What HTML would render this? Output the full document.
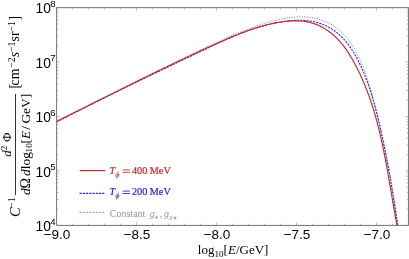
<!DOCTYPE html>
<html><head><meta charset="utf-8"><title>plot</title><style>html,body{margin:0;padding:0;background:#fff}svg{display:block;will-change:transform}</style></head><body>
<svg width="409" height="259" viewBox="0 0 409 259">
<rect width="409" height="259" fill="#fff"/>
<defs><clipPath id="c"><rect x="56.60" y="7.65" width="351.85" height="217.75"/></clipPath></defs>
<g clip-path="url(#c)" fill="none">
<path d="M56.68,121.14 L57.81,120.57 L58.95,119.99 L60.08,119.42 L61.22,118.85 L62.36,118.27 L63.50,117.70 L64.64,117.13 L65.78,116.55 L66.92,115.98 L68.06,115.40 L69.20,114.83 L70.34,114.25 L71.48,113.68 L72.63,113.10 L73.77,112.53 L74.92,111.95 L76.06,111.38 L77.21,110.80 L78.36,110.23 L79.51,109.65 L80.66,109.07 L81.80,108.50 L82.95,107.92 L84.10,107.34 L85.25,106.77 L86.41,106.19 L87.56,105.61 L88.71,105.04 L89.86,104.46 L91.02,103.88 L92.17,103.31 L93.32,102.73 L94.48,102.15 L95.63,101.57 L96.79,101.00 L97.95,100.42 L99.10,99.84 L100.26,99.27 L101.42,98.69 L102.57,98.11 L103.73,97.53 L104.89,96.96 L106.05,96.38 L107.21,95.80 L108.37,95.22 L109.53,94.65 L110.69,94.07 L111.85,93.49 L113.01,92.92 L114.17,92.34 L115.33,91.76 L116.49,91.19 L117.65,90.61 L118.81,90.03 L119.98,89.46 L121.14,88.88 L122.30,88.30 L123.46,87.73 L124.62,87.15 L125.79,86.57 L126.95,86.00 L128.11,85.42 L129.28,84.85 L130.44,84.27 L131.60,83.70 L132.76,83.12 L133.93,82.55 L135.09,81.97 L136.25,81.40 L137.42,80.82 L138.58,80.25 L139.74,79.67 L140.91,79.10 L142.07,78.53 L143.23,77.95 L144.40,77.38 L145.56,76.81 L146.72,76.23 L147.89,75.66 L149.05,75.09 L150.21,74.51 L151.37,73.94 L152.54,73.37 L153.70,72.80 L154.86,72.23 L156.02,71.66 L157.19,71.09 L158.35,70.52 L159.51,69.95 L160.67,69.38 L161.83,68.81 L162.99,68.24 L164.15,67.67 L165.31,67.10 L166.47,66.53 L167.63,65.96 L168.79,65.40 L169.95,64.83 L171.11,64.26 L172.27,63.70 L173.43,63.13 L174.58,62.56 L175.74,62.00 L176.90,61.43 L178.05,60.87 L179.21,60.31 L180.37,59.74 L181.52,59.18 L182.68,58.61 L183.83,58.05 L184.98,57.49 L186.14,56.93 L187.29,56.37 L188.44,55.81 L189.59,55.25 L190.75,54.69 L191.90,54.13 L193.05,53.57 L194.20,53.01 L195.35,52.45 L196.49,51.89 L197.64,51.34 L198.79,50.78 L199.94,50.23 L201.09,49.67 L202.24,49.12 L203.39,48.57 L204.54,48.01 L205.68,47.46 L206.83,46.92 L207.98,46.37 L209.14,45.82 L210.29,45.28 L211.44,44.74 L212.59,44.19 L213.75,43.65 L214.90,43.12 L216.06,42.58 L217.22,42.05 L218.38,41.51 L219.54,40.98 L220.70,40.46 L221.87,39.93 L223.03,39.41 L224.20,38.88 L225.37,38.36 L226.54,37.85 L227.71,37.33 L228.89,36.82 L230.07,36.31 L231.25,35.81 L232.43,35.30 L233.62,34.80 L234.80,34.30 L236.00,33.81 L237.19,33.32 L238.39,32.83 L239.58,32.34 L240.79,31.86 L241.99,31.38 L243.20,30.90 L244.41,30.43 L245.63,29.96 L246.85,29.50 L248.07,29.04 L249.30,28.58 L250.53,28.12 L251.76,27.67 L253.00,27.23 L254.24,26.79 L255.49,26.35 L256.74,25.91 L257.99,25.48 L259.25,25.06 L260.51,24.64 L261.78,24.22 L263.05,23.82 L264.32,23.42 L265.59,23.02 L266.87,22.64 L268.15,22.26 L269.44,21.89 L270.72,21.53 L272.01,21.18 L273.29,20.83 L274.58,20.50 L275.87,20.18 L277.16,19.88 L278.45,19.58 L279.75,19.29 L281.04,19.02 L282.33,18.76 L283.62,18.52 L284.91,18.29 L286.20,18.07 L287.49,17.87 L288.78,17.69 L290.07,17.52 L291.35,17.37 L292.63,17.23 L293.92,17.12 L295.19,17.02 L296.47,16.93 L297.74,16.87 L299.01,16.83 L300.28,16.81 L301.54,16.80 L302.80,16.82 L304.06,16.86 L305.31,16.92 L306.56,17.01 L307.80,17.11 L309.04,17.24 L310.27,17.39 L311.50,17.57 L312.72,17.77 L313.94,18.00 L315.15,18.25 L316.35,18.53 L317.55,18.83 L318.74,19.17 L319.93,19.53 L321.10,19.91 L322.27,20.33 L323.43,20.77 L324.59,21.23 L325.73,21.73 L326.86,22.24 L327.99,22.79 L329.10,23.36 L330.20,23.95 L331.29,24.57 L332.36,25.22 L333.42,25.89 L334.47,26.58 L335.51,27.29 L336.53,28.03 L337.54,28.79 L338.53,29.57 L339.50,30.38 L340.46,31.21 L341.40,32.05 L342.32,32.92 L343.22,33.81 L344.11,34.72 L344.97,35.66 L345.82,36.61 L346.65,37.57 L347.46,38.56 L348.25,39.57 L349.03,40.59 L349.78,41.62 L350.52,42.67 L351.25,43.73 L351.96,44.81 L352.65,45.90 L353.33,47.00 L354.00,48.11 L354.65,49.23 L355.29,50.36 L355.91,51.49 L356.52,52.64 L357.12,53.79 L357.71,54.94 L358.28,56.10 L358.85,57.27 L359.40,58.44 L359.95,59.61 L360.48,60.79 L361.00,61.97 L361.51,63.16 L362.02,64.35 L362.51,65.55 L362.99,66.74 L363.47,67.95 L363.94,69.15 L364.39,70.36 L364.84,71.57 L365.29,72.79 L365.72,74.01 L366.15,75.23 L366.57,76.45 L366.98,77.68 L367.39,78.91 L367.79,80.14 L368.19,81.37 L368.58,82.60 L368.96,83.84 L369.34,85.08 L369.71,86.32 L370.08,87.56 L370.45,88.80 L370.81,90.05 L371.16,91.29 L371.52,92.54 L371.87,93.79 L372.21,95.03 L372.56,96.28 L372.90,97.53 L373.24,98.78 L373.57,100.03 L373.91,101.28 L374.24,102.53 L374.57,103.78 L374.90,105.03 L375.22,106.28 L375.55,107.53 L375.87,108.78 L376.19,110.03 L376.50,111.28 L376.82,112.53 L377.13,113.78 L377.44,115.03 L377.75,116.29 L378.05,117.54 L378.36,118.79 L378.66,120.04 L378.96,121.30 L379.26,122.55 L379.56,123.81 L379.85,125.06 L380.14,126.31 L380.43,127.57 L380.72,128.82 L381.01,130.08 L381.29,131.34 L381.57,132.59 L381.86,133.85 L382.13,135.11 L382.41,136.36 L382.69,137.62 L382.96,138.88 L383.23,140.14 L383.50,141.39 L383.77,142.65 L384.04,143.91 L384.30,145.17 L384.56,146.43 L384.82,147.69 L385.08,148.95 L385.34,150.21 L385.60,151.47 L385.85,152.74 L386.10,154.00 L386.35,155.26 L386.60,156.52 L386.85,157.79 L387.09,159.05 L387.34,160.31 L387.58,161.58 L387.82,162.84 L388.06,164.11 L388.30,165.37 L388.54,166.64 L388.77,167.91 L389.00,169.17 L389.23,170.44 L389.47,171.71 L389.69,172.97 L389.92,174.24 L390.15,175.51 L390.37,176.78 L390.59,178.05 L390.82,179.32 L391.04,180.59 L391.25,181.86 L391.47,183.13 L391.69,184.41 L391.90,185.68 L392.12,186.95 L392.33,188.22 L392.54,189.50 L392.75,190.77 L392.96,192.05 L393.16,193.32 L393.37,194.60 L393.57,195.87 L393.78,197.15 L393.98,198.43 L394.18,199.71 L394.38,200.98 L394.58,202.26 L394.77,203.54 L394.97,204.82 L395.16,206.10 L395.36,207.38 L395.55,208.66 L395.74,209.94 L395.93,211.23 L396.12,212.51 L396.31,213.79 L396.50,215.08 L396.68,216.36 L396.87,217.65 L397.05,218.93 L397.23,220.22 L397.42,221.50 L397.60,222.79 L397.78,224.08" stroke="#7c7c7c" stroke-width="0.95" stroke-dasharray="1.15 1.4"/>
<path d="M56.49,122.11 L57.65,121.50 L58.81,120.89 L59.97,120.29 L61.13,119.69 L62.29,119.08 L63.45,118.48 L64.61,117.88 L65.77,117.28 L66.93,116.68 L68.09,116.09 L69.25,115.49 L70.41,114.89 L71.57,114.30 L72.73,113.71 L73.89,113.11 L75.05,112.52 L76.21,111.93 L77.37,111.34 L78.53,110.75 L79.68,110.16 L80.84,109.57 L82.00,108.99 L83.16,108.40 L84.32,107.81 L85.48,107.23 L86.64,106.65 L87.79,106.06 L88.95,105.48 L90.11,104.90 L91.27,104.32 L92.43,103.74 L93.59,103.16 L94.74,102.58 L95.90,102.00 L97.06,101.42 L98.22,100.85 L99.38,100.27 L100.54,99.70 L101.69,99.12 L102.85,98.55 L104.01,97.97 L105.17,97.40 L106.33,96.83 L107.49,96.26 L108.64,95.69 L109.80,95.12 L110.96,94.55 L112.12,93.98 L113.28,93.41 L114.44,92.84 L115.60,92.27 L116.75,91.70 L117.91,91.14 L119.07,90.57 L120.23,90.00 L121.39,89.44 L122.55,88.87 L123.71,88.31 L124.87,87.74 L126.03,87.18 L127.19,86.62 L128.35,86.05 L129.51,85.49 L130.67,84.93 L131.83,84.37 L132.99,83.80 L134.15,83.24 L135.31,82.68 L136.47,82.12 L137.63,81.56 L138.79,81.00 L139.95,80.44 L141.11,79.88 L142.27,79.32 L143.43,78.76 L144.60,78.21 L145.76,77.65 L146.92,77.09 L148.08,76.53 L149.24,75.97 L150.41,75.41 L151.57,74.86 L152.73,74.30 L153.89,73.74 L155.06,73.19 L156.22,72.63 L157.38,72.07 L158.55,71.51 L159.71,70.96 L160.88,70.40 L162.04,69.85 L163.21,69.29 L164.37,68.73 L165.54,68.18 L166.70,67.62 L167.87,67.06 L169.03,66.51 L170.20,65.95 L171.36,65.40 L172.53,64.84 L173.70,64.28 L174.87,63.73 L176.03,63.17 L177.20,62.61 L178.37,62.06 L179.54,61.50 L180.71,60.94 L181.87,60.39 L183.04,59.83 L184.21,59.27 L185.38,58.72 L186.55,58.16 L187.72,57.60 L188.89,57.05 L190.06,56.49 L191.24,55.93 L192.41,55.37 L193.58,54.81 L194.75,54.25 L195.92,53.70 L197.10,53.14 L198.27,52.58 L199.44,52.02 L200.62,51.46 L201.79,50.90 L202.97,50.34 L204.14,49.78 L205.32,49.22 L206.49,48.66 L207.67,48.10 L208.85,47.54 L210.03,46.99 L211.21,46.43 L212.38,45.87 L213.56,45.32 L214.75,44.77 L215.93,44.22 L217.11,43.67 L218.29,43.12 L219.48,42.58 L220.66,42.04 L221.85,41.50 L223.04,40.96 L224.23,40.43 L225.42,39.90 L226.61,39.37 L227.80,38.85 L228.99,38.33 L230.19,37.82 L231.38,37.30 L232.58,36.80 L233.78,36.29 L234.98,35.79 L236.18,35.30 L237.38,34.81 L238.59,34.32 L239.80,33.84 L241.00,33.37 L242.21,32.90 L243.43,32.44 L244.64,31.98 L245.85,31.53 L247.07,31.08 L248.29,30.64 L249.51,30.21 L250.73,29.78 L251.96,29.36 L253.18,28.95 L254.41,28.54 L255.64,28.15 L256.87,27.75 L258.11,27.37 L259.35,27.00 L260.59,26.63 L261.83,26.27 L263.07,25.92 L264.32,25.57 L265.57,25.24 L266.82,24.92 L268.07,24.60 L269.33,24.29 L270.59,23.99 L271.85,23.71 L273.11,23.43 L274.38,23.16 L275.65,22.90 L276.92,22.65 L278.20,22.41 L279.47,22.18 L280.76,21.97 L282.04,21.76 L283.33,21.56 L284.62,21.38 L285.91,21.20 L287.20,21.04 L288.50,20.90 L289.80,20.76 L291.10,20.64 L292.40,20.53 L293.70,20.44 L295.00,20.37 L296.30,20.31 L297.60,20.28 L298.89,20.26 L300.19,20.26 L301.48,20.28 L302.76,20.32 L304.05,20.39 L305.33,20.47 L306.60,20.58 L307.87,20.72 L309.13,20.88 L310.39,21.06 L311.64,21.27 L312.88,21.51 L314.11,21.77 L315.34,22.06 L316.56,22.38 L317.77,22.72 L318.97,23.08 L320.15,23.47 L321.33,23.89 L322.50,24.33 L323.66,24.80 L324.80,25.29 L325.93,25.80 L327.05,26.34 L328.16,26.91 L329.25,27.50 L330.32,28.11 L331.39,28.75 L332.43,29.41 L333.47,30.09 L334.48,30.80 L335.48,31.54 L336.46,32.29 L337.43,33.07 L338.38,33.87 L339.32,34.69 L340.24,35.53 L341.14,36.40 L342.03,37.28 L342.90,38.18 L343.76,39.10 L344.60,40.04 L345.43,41.00 L346.25,41.97 L347.05,42.96 L347.84,43.96 L348.61,44.98 L349.37,46.02 L350.12,47.07 L350.86,48.13 L351.58,49.21 L352.29,50.30 L352.99,51.40 L353.67,52.51 L354.34,53.63 L355.01,54.77 L355.66,55.91 L356.29,57.06 L356.92,58.22 L357.54,59.39 L358.15,60.57 L358.74,61.75 L359.33,62.94 L359.90,64.14 L360.47,65.34 L361.02,66.55 L361.57,67.76 L362.11,68.97 L362.64,70.19 L363.16,71.41 L363.67,72.63 L364.17,73.85 L364.66,75.08 L365.15,76.30 L365.63,77.53 L366.10,78.75 L366.56,79.98 L367.02,81.20 L367.47,82.43 L367.91,83.65 L368.34,84.88 L368.77,86.11 L369.19,87.34 L369.61,88.57 L370.01,89.80 L370.42,91.02 L370.81,92.25 L371.20,93.49 L371.58,94.72 L371.96,95.95 L372.34,97.18 L372.70,98.41 L373.06,99.65 L373.42,100.88 L373.77,102.12 L374.12,103.35 L374.46,104.59 L374.80,105.82 L375.14,107.06 L375.46,108.30 L375.79,109.54 L376.11,110.78 L376.43,112.02 L376.74,113.26 L377.05,114.50 L377.36,115.75 L377.67,116.99 L377.97,118.23 L378.26,119.48 L378.56,120.73 L378.85,121.97 L379.14,123.22 L379.43,124.47 L379.72,125.72 L380.00,126.97 L380.28,128.22 L380.56,129.47 L380.84,130.73 L381.11,131.98 L381.39,133.24 L381.66,134.49 L381.93,135.75 L382.20,137.01 L382.47,138.27 L382.74,139.53 L383.01,140.79 L383.27,142.05 L383.53,143.31 L383.79,144.57 L384.05,145.84 L384.31,147.10 L384.57,148.37 L384.82,149.63 L385.08,150.90 L385.33,152.16 L385.58,153.43 L385.83,154.70 L386.07,155.97 L386.32,157.24 L386.57,158.51 L386.81,159.78 L387.05,161.05 L387.29,162.32 L387.53,163.59 L387.77,164.87 L388.00,166.14 L388.24,167.41 L388.47,168.69 L388.70,169.96 L388.94,171.24 L389.17,172.51 L389.39,173.79 L389.62,175.06 L389.85,176.34 L390.07,177.61 L390.29,178.89 L390.52,180.17 L390.74,181.44 L390.96,182.72 L391.17,184.00 L391.39,185.28 L391.61,186.55 L391.82,187.83 L392.03,189.11 L392.24,190.39 L392.45,191.67 L392.66,192.94 L392.87,194.22 L393.08,195.50 L393.29,196.78 L393.49,198.06 L393.69,199.34 L393.90,200.61 L394.10,201.89 L394.30,203.17 L394.50,204.45 L394.69,205.73 L394.89,207.00 L395.09,208.28 L395.28,209.56 L395.48,210.84 L395.67,212.11 L395.86,213.39 L396.05,214.67 L396.24,215.94 L396.43,217.22 L396.61,218.50 L396.80,219.77 L396.99,221.05 L397.17,222.32 L397.35,223.60 L397.54,224.87 L397.72,226.14 L397.90,227.42 L398.08,228.69 L398.25,229.96" stroke="#2a2ac8" stroke-width="1.1" stroke-dasharray="2.1 1.14"/>
<path d="M56.51,121.55 L57.67,120.98 L58.83,120.40 L59.99,119.83 L61.15,119.25 L62.30,118.68 L63.46,118.10 L64.62,117.53 L65.77,116.95 L66.93,116.38 L68.08,115.80 L69.23,115.23 L70.39,114.65 L71.54,114.08 L72.69,113.50 L73.84,112.93 L74.99,112.35 L76.14,111.78 L77.30,111.20 L78.45,110.63 L79.59,110.05 L80.74,109.48 L81.89,108.90 L83.04,108.33 L84.19,107.75 L85.34,107.18 L86.48,106.60 L87.63,106.03 L88.78,105.45 L89.92,104.88 L91.07,104.31 L92.22,103.73 L93.36,103.16 L94.51,102.59 L95.65,102.01 L96.79,101.44 L97.94,100.87 L99.08,100.29 L100.23,99.72 L101.37,99.15 L102.51,98.57 L103.66,98.00 L104.80,97.43 L105.94,96.86 L107.09,96.29 L108.23,95.71 L109.37,95.14 L110.51,94.57 L111.65,94.00 L112.80,93.43 L113.94,92.86 L115.08,92.29 L116.22,91.72 L117.36,91.15 L118.51,90.58 L119.65,90.01 L120.79,89.44 L121.93,88.87 L123.07,88.30 L124.21,87.73 L125.35,87.17 L126.50,86.60 L127.64,86.03 L128.78,85.46 L129.92,84.90 L131.06,84.33 L132.20,83.76 L133.35,83.20 L134.49,82.63 L135.63,82.07 L136.77,81.50 L137.91,80.94 L139.06,80.37 L140.20,79.81 L141.34,79.25 L142.48,78.68 L143.63,78.12 L144.77,77.56 L145.91,76.99 L147.06,76.43 L148.20,75.87 L149.34,75.31 L150.49,74.75 L151.63,74.19 L152.78,73.63 L153.92,73.07 L155.07,72.51 L156.21,71.95 L157.36,71.39 L158.50,70.84 L159.65,70.28 L160.80,69.72 L161.94,69.16 L163.09,68.61 L164.24,68.05 L165.39,67.50 L166.54,66.94 L167.68,66.39 L168.83,65.83 L169.98,65.28 L171.13,64.73 L172.28,64.18 L173.43,63.62 L174.59,63.07 L175.74,62.52 L176.89,61.97 L178.04,61.42 L179.20,60.87 L180.35,60.33 L181.50,59.78 L182.66,59.23 L183.82,58.68 L184.97,58.14 L186.13,57.59 L187.28,57.04 L188.44,56.50 L189.60,55.96 L190.76,55.41 L191.92,54.87 L193.08,54.33 L194.24,53.78 L195.40,53.24 L196.56,52.70 L197.73,52.16 L198.89,51.62 L200.05,51.08 L201.22,50.55 L202.38,50.01 L203.55,49.47 L204.72,48.94 L205.88,48.40 L207.05,47.86 L208.22,47.33 L209.39,46.80 L210.56,46.26 L211.73,45.73 L212.90,45.20 L214.08,44.67 L215.25,44.14 L216.43,43.61 L217.60,43.08 L218.78,42.55 L219.96,42.03 L221.13,41.50 L222.31,40.98 L223.49,40.46 L224.67,39.94 L225.86,39.43 L227.04,38.91 L228.22,38.40 L229.41,37.90 L230.60,37.39 L231.79,36.89 L232.97,36.39 L234.17,35.90 L235.36,35.41 L236.55,34.93 L237.75,34.45 L238.94,33.97 L240.14,33.50 L241.34,33.04 L242.54,32.58 L243.74,32.12 L244.94,31.67 L246.15,31.23 L247.35,30.79 L248.56,30.36 L249.77,29.94 L250.98,29.52 L252.20,29.11 L253.41,28.71 L254.63,28.31 L255.85,27.93 L257.07,27.55 L258.29,27.17 L259.51,26.81 L260.74,26.45 L261.96,26.11 L263.19,25.77 L264.43,25.44 L265.66,25.12 L266.90,24.81 L268.13,24.51 L269.37,24.22 L270.61,23.94 L271.86,23.67 L273.11,23.41 L274.35,23.16 L275.60,22.92 L276.86,22.69 L278.11,22.48 L279.37,22.27 L280.63,22.08 L281.89,21.90 L283.16,21.73 L284.42,21.58 L285.69,21.43 L286.97,21.30 L288.24,21.19 L289.51,21.09 L290.79,21.00 L292.07,20.94 L293.34,20.89 L294.62,20.86 L295.89,20.86 L297.16,20.87 L298.44,20.91 L299.71,20.97 L300.97,21.05 L302.24,21.16 L303.50,21.30 L304.75,21.47 L306.01,21.66 L307.26,21.88 L308.50,22.14 L309.74,22.43 L310.97,22.74 L312.19,23.10 L313.41,23.48 L314.62,23.89 L315.82,24.34 L317.01,24.81 L318.19,25.31 L319.36,25.84 L320.52,26.39 L321.66,26.98 L322.80,27.59 L323.92,28.22 L325.02,28.88 L326.11,29.56 L327.18,30.26 L328.24,30.99 L329.28,31.73 L330.30,32.50 L331.30,33.29 L332.29,34.09 L333.26,34.92 L334.21,35.76 L335.14,36.63 L336.06,37.50 L336.96,38.40 L337.85,39.31 L338.72,40.24 L339.58,41.18 L340.42,42.14 L341.25,43.11 L342.06,44.10 L342.86,45.09 L343.64,46.10 L344.41,47.13 L345.17,48.16 L345.92,49.20 L346.66,50.26 L347.38,51.32 L348.09,52.40 L348.79,53.48 L349.48,54.57 L350.16,55.67 L350.83,56.77 L351.49,57.88 L352.14,59.00 L352.78,60.12 L353.41,61.25 L354.04,62.39 L354.65,63.52 L355.26,64.66 L355.86,65.80 L356.45,66.95 L357.04,68.10 L357.61,69.25 L358.18,70.40 L358.75,71.55 L359.30,72.71 L359.85,73.87 L360.40,75.03 L360.93,76.20 L361.46,77.36 L361.99,78.53 L362.50,79.70 L363.01,80.88 L363.52,82.05 L364.01,83.23 L364.50,84.41 L364.99,85.59 L365.47,86.77 L365.94,87.96 L366.41,89.15 L366.87,90.34 L367.32,91.53 L367.77,92.72 L368.21,93.92 L368.65,95.12 L369.08,96.32 L369.51,97.52 L369.93,98.72 L370.35,99.93 L370.76,101.14 L371.16,102.34 L371.56,103.55 L371.96,104.77 L372.35,105.98 L372.73,107.20 L373.11,108.41 L373.49,109.63 L373.86,110.85 L374.22,112.07 L374.58,113.30 L374.94,114.52 L375.29,115.75 L375.64,116.97 L375.99,118.20 L376.32,119.43 L376.66,120.66 L376.99,121.90 L377.32,123.13 L377.64,124.37 L377.96,125.60 L378.28,126.84 L378.59,128.08 L378.90,129.32 L379.20,130.56 L379.50,131.80 L379.80,133.05 L380.09,134.29 L380.38,135.54 L380.67,136.78 L380.95,138.03 L381.24,139.28 L381.51,140.53 L381.79,141.78 L382.06,143.03 L382.33,144.28 L382.60,145.53 L382.86,146.79 L383.12,148.04 L383.38,149.30 L383.64,150.55 L383.89,151.81 L384.14,153.06 L384.39,154.32 L384.64,155.58 L384.88,156.84 L385.13,158.10 L385.37,159.36 L385.61,160.62 L385.84,161.88 L386.08,163.14 L386.31,164.40 L386.55,165.66 L386.78,166.92 L387.01,168.19 L387.23,169.45 L387.46,170.71 L387.68,171.97 L387.91,173.24 L388.13,174.50 L388.35,175.76 L388.57,177.03 L388.79,178.29 L389.01,179.56 L389.23,180.82 L389.45,182.08 L389.66,183.35 L389.88,184.61 L390.09,185.88 L390.31,187.14 L390.52,188.40 L390.74,189.67 L390.95,190.93 L391.17,192.19 L391.38,193.46 L391.60,194.72 L391.81,195.98 L392.02,197.24 L392.24,198.50 L392.45,199.77 L392.67,201.03 L392.88,202.29 L393.10,203.55 L393.32,204.81 L393.53,206.07 L393.75,207.33 L393.97,208.58 L394.19,209.84 L394.41,211.10 L394.63,212.35 L394.85,213.61 L395.08,214.86 L395.30,216.12 L395.53,217.37 L395.75,218.63 L395.98,219.88 L396.21,221.13 L396.44,222.38 L396.68,223.63 L396.91,224.88 L397.15,226.12 L397.39,227.37 L397.63,228.62 L397.87,229.86" stroke="#c22b33" stroke-width="1.15"/>
</g>
<rect x="56.60" y="7.65" width="351.85" height="217.75" fill="none" stroke="#747474" stroke-width="1.0"/>
<path d="M56.60,225.40v-3.00M56.60,7.65v3.00M72.60,225.40v-1.80M72.60,7.65v1.80M88.60,225.40v-1.80M88.60,7.65v1.80M104.60,225.40v-1.80M104.60,7.65v1.80M120.60,225.40v-1.80M120.60,7.65v1.80M136.60,225.40v-3.00M136.60,7.65v3.00M152.60,225.40v-1.80M152.60,7.65v1.80M168.60,225.40v-1.80M168.60,7.65v1.80M184.60,225.40v-1.80M184.60,7.65v1.80M200.60,225.40v-1.80M200.60,7.65v1.80M216.60,225.40v-3.00M216.60,7.65v3.00M232.60,225.40v-1.80M232.60,7.65v1.80M248.60,225.40v-1.80M248.60,7.65v1.80M264.60,225.40v-1.80M264.60,7.65v1.80M280.60,225.40v-1.80M280.60,7.65v1.80M296.60,225.40v-3.00M296.60,7.65v3.00M312.60,225.40v-1.80M312.60,7.65v1.80M328.60,225.40v-1.80M328.60,7.65v1.80M344.60,225.40v-1.80M344.60,7.65v1.80M360.60,225.40v-1.80M360.60,7.65v1.80M376.60,225.40v-3.00M376.60,7.65v3.00M392.60,225.40v-1.80M392.60,7.65v1.80M408.60,225.40v-1.80M408.60,7.65v1.80M56.60,225.40h3.00M408.45,225.40h-3.00M56.60,209.01h1.80M408.45,209.01h-1.80M56.60,199.43h1.80M408.45,199.43h-1.80M56.60,192.63h1.80M408.45,192.63h-1.80M56.60,187.35h1.80M408.45,187.35h-1.80M56.60,183.04h1.80M408.45,183.04h-1.80M56.60,179.39h1.80M408.45,179.39h-1.80M56.60,176.24h1.80M408.45,176.24h-1.80M56.60,173.45h1.80M408.45,173.45h-1.80M56.60,170.96h3.00M408.45,170.96h-3.00M56.60,154.58h1.80M408.45,154.58h-1.80M56.60,144.99h1.80M408.45,144.99h-1.80M56.60,138.19h1.80M408.45,138.19h-1.80M56.60,132.91h1.80M408.45,132.91h-1.80M56.60,128.60h1.80M408.45,128.60h-1.80M56.60,124.96h1.80M408.45,124.96h-1.80M56.60,121.80h1.80M408.45,121.80h-1.80M56.60,119.02h1.80M408.45,119.02h-1.80M56.60,116.53h3.00M408.45,116.53h-3.00M56.60,100.14h1.80M408.45,100.14h-1.80M56.60,90.55h1.80M408.45,90.55h-1.80M56.60,83.75h1.80M408.45,83.75h-1.80M56.60,78.47h1.80M408.45,78.47h-1.80M56.60,74.16h1.80M408.45,74.16h-1.80M56.60,70.52h1.80M408.45,70.52h-1.80M56.60,67.36h1.80M408.45,67.36h-1.80M56.60,64.58h1.80M408.45,64.58h-1.80M56.60,62.09h3.00M408.45,62.09h-3.00M56.60,45.70h1.80M408.45,45.70h-1.80M56.60,36.11h1.80M408.45,36.11h-1.80M56.60,29.31h1.80M408.45,29.31h-1.80M56.60,24.04h1.80M408.45,24.04h-1.80M56.60,19.73h1.80M408.45,19.73h-1.80M56.60,16.08h1.80M408.45,16.08h-1.80M56.60,12.93h1.80M408.45,12.93h-1.80M56.60,10.14h1.80M408.45,10.14h-1.80M56.60,7.65h3.00M408.45,7.65h-3.00" stroke="#8a8a8a" stroke-width="0.6" fill="none"/>
<text x="57.00" y="238.7" font-family="Liberation Sans, sans-serif" font-size="13.5" text-anchor="middle" fill="#000">−9.0</text>
<text x="137.00" y="238.7" font-family="Liberation Sans, sans-serif" font-size="13.5" text-anchor="middle" fill="#000">−8.5</text>
<text x="217.00" y="238.7" font-family="Liberation Sans, sans-serif" font-size="13.5" text-anchor="middle" fill="#000">−8.0</text>
<text x="297.00" y="238.7" font-family="Liberation Sans, sans-serif" font-size="13.5" text-anchor="middle" fill="#000">−7.5</text>
<text x="377.00" y="238.7" font-family="Liberation Sans, sans-serif" font-size="13.5" text-anchor="middle" fill="#000">−7.0</text>
<text x="50.9" y="231.00" font-family="Liberation Sans, sans-serif" font-size="13.8" text-anchor="end" fill="#000">10</text>
<text x="50.3" y="224.70" font-family="Liberation Sans, sans-serif" font-size="9.6" fill="#000">4</text>
<text x="50.9" y="176.56" font-family="Liberation Sans, sans-serif" font-size="13.8" text-anchor="end" fill="#000">10</text>
<text x="50.3" y="170.26" font-family="Liberation Sans, sans-serif" font-size="9.6" fill="#000">5</text>
<text x="50.9" y="122.12" font-family="Liberation Sans, sans-serif" font-size="13.8" text-anchor="end" fill="#000">10</text>
<text x="50.3" y="115.83" font-family="Liberation Sans, sans-serif" font-size="9.6" fill="#000">6</text>
<text x="50.9" y="67.69" font-family="Liberation Sans, sans-serif" font-size="13.8" text-anchor="end" fill="#000">10</text>
<text x="50.3" y="61.39" font-family="Liberation Sans, sans-serif" font-size="9.6" fill="#000">7</text>
<text x="50.9" y="13.25" font-family="Liberation Sans, sans-serif" font-size="13.8" text-anchor="end" fill="#000">10</text>
<text x="50.3" y="6.95" font-family="Liberation Sans, sans-serif" font-size="9.6" fill="#000">8</text>
<text x="197.8" y="254.4" font-family="Liberation Serif, serif" font-size="13" fill="#000">log<tspan font-size="9.2" dy="2.6">10</tspan><tspan dy="-2.6">[</tspan><tspan font-style="italic">E</tspan>/GeV]</text>
<g transform="translate(0,0) rotate(-90)" font-family="Liberation Serif, serif" font-size="13" fill="#000">
<text x="-217.1" y="19.9" font-size="14.5"><tspan font-style="italic">C</tspan><tspan font-size="10.2" dy="-5.1" dx="-0.6">−1</tspan></text>
<path d="M-195.2,15.5H-93.9" stroke="#000" stroke-width="0.8"/>
<text x="-156.8" y="11.3"><tspan font-style="italic">d</tspan><tspan font-size="9.2" dy="-4.5">2</tspan><tspan dy="4.5" dx="3.6">Φ</tspan></text>
<text x="-195.1" y="29.8" font-size="13.4"><tspan font-style="italic">d</tspan><tspan font-size="14">Ω</tspan><tspan font-style="italic" dx="2.0">d</tspan><tspan dx="0.1">log</tspan><tspan font-size="9.2" dy="2.6" dx="-0.4">10</tspan><tspan dy="-2.6" dx="-0.3">[</tspan><tspan font-style="italic">E</tspan><tspan dx="1.1">/</tspan><tspan dx="2.5">GeV]</tspan></text>
<text x="-88.4" y="19.3" font-size="14">[</text><text x="-85.4" y="19.3" font-size="13.8">cm<tspan font-size="9.8" dy="-4.1" dx="0.8">−2</tspan><tspan dy="4.1" font-style="italic">s</tspan><tspan font-size="9.8" dy="-4.1">−1</tspan><tspan dy="4.1">sr</tspan><tspan font-size="9.8" dy="-4.1">−1</tspan></text><text x="-20.5" y="19.3" font-size="14">]</text>
</g>
<path d="M79.7,170.6H105.1" stroke="#c22b33" stroke-width="1.3"/>
<path d="M79.5,193.3H105.3" stroke="#2a2ac8" stroke-width="1.15" stroke-dasharray="2.2 1.04"/>
<path d="M79.5,212.3H105.3" stroke="#8a8a8a" stroke-width="0.95" stroke-dasharray="2.0 1.24"/>
<text x="109.6" y="174.20" font-family="Liberation Serif, serif" font-size="10.2" fill="#c22b33" stroke="#c22b33" stroke-width="0.22"><tspan font-style="italic">T</tspan><tspan x="132">400</tspan><tspan x="149.8">MeV</tspan></text>
<path d="M122.6,169.90H129.9M122.6,172.30H129.9" stroke="#c22b33" stroke-width="0.9" fill="none"/>
<text transform="translate(115.1,176.80) skewX(-14)" font-family="Liberation Serif, serif" font-size="7.5" fill="#c22b33" stroke="#c22b33" stroke-width="0.15">ϕ</text>
<text x="109.6" y="195.40" font-family="Liberation Serif, serif" font-size="10.2" fill="#2a2ac8" stroke="#2a2ac8" stroke-width="0.22"><tspan font-style="italic">T</tspan><tspan x="132">200</tspan><tspan x="149.8">MeV</tspan></text>
<path d="M122.6,191.10H129.9M122.6,193.50H129.9" stroke="#2a2ac8" stroke-width="0.9" fill="none"/>
<text transform="translate(115.1,198.00) skewX(-14)" font-family="Liberation Serif, serif" font-size="7.5" fill="#2a2ac8" stroke="#2a2ac8" stroke-width="0.15">ϕ</text>
<text x="109.8" y="216.6" font-family="Liberation Serif, serif" font-size="10" fill="#a2a2a2" stroke="#a2a2a2" stroke-width="0.1">Constant<tspan x="149.7" font-style="italic">g</tspan><tspan x="159.7">,</tspan><tspan x="163.9" font-style="italic">g</tspan><tspan font-style="italic" font-size="7" dy="3.0">S</tspan></text>
<polygon points="156.50,215.40 157.02,216.79 158.50,216.85 157.34,217.77 157.73,219.20 156.50,218.38 155.27,219.20 155.66,217.77 154.50,216.85 155.98,216.79" fill="#a2a2a2"/>
<polygon points="175.00,215.90 175.52,217.29 177.00,217.35 175.84,218.27 176.23,219.70 175.00,218.88 173.77,219.70 174.16,218.27 173.00,217.35 174.48,217.29" fill="#a2a2a2"/>
</svg>
</body></html>
